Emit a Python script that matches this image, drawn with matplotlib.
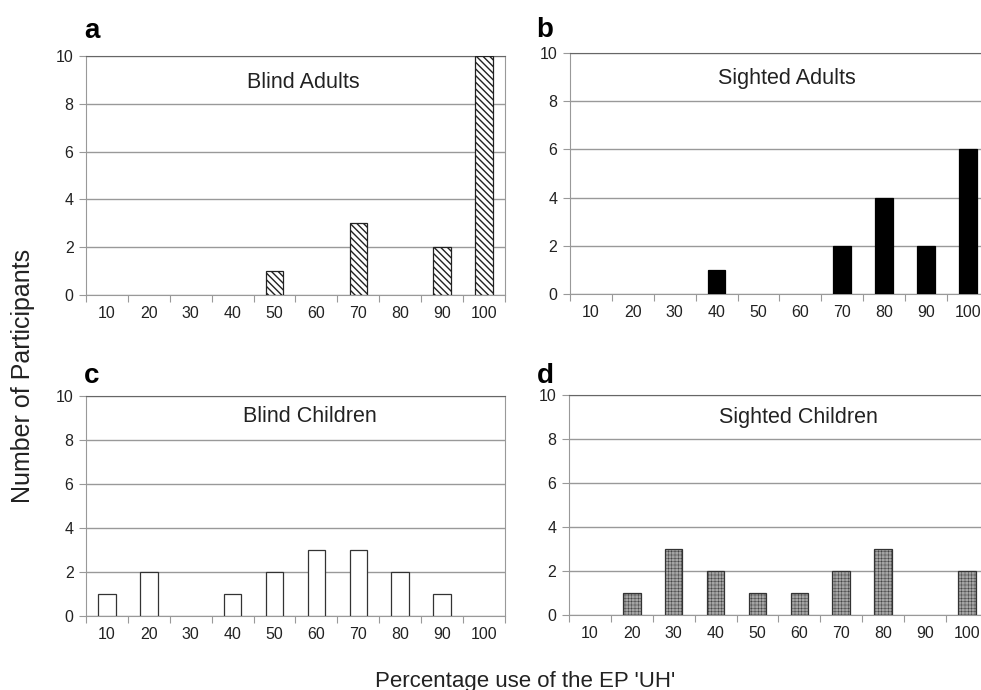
import matplotlib.pyplot as plt
import numpy as np

plt.rcParams['font.family'] = ['Liberation Sans', 'DejaVu Sans']

categories = ['10', '20', '30', '40', '50', '60', '70', '80', '90', '100']
blind_adults = [0, 0, 0, 0, 1, 0, 3, 0, 2, 10]
sighted_adults = [0, 0, 0, 1, 0, 0, 2, 4, 2, 6]
blind_children = [1, 2, 0, 1, 2, 3, 3, 2, 1, 0]
sighted_children = [0, 1, 3, 2, 1, 1, 2, 3, 0, 2]

panels = [
    # letter, title, values, axes rect, title pos (axes frac), letter pos (fig frac), bar style
    ('a', 'Blind Adults', blind_adults, [0.0877, 0.5725, 0.427, 0.3464], (0.518, 0.887), (0.086, 0.945),
     dict(facecolor='white', edgecolor='#222222', hatch='\\\\\\\\\\', hlw=1.0)),
    ('b', 'Sighted Adults', sighted_adults, [0.581, 0.574, 0.427, 0.349], (0.518, 0.896), (0.547, 0.946),
     dict(facecolor='black', edgecolor='black', hatch=None, hlw=1.0)),
    ('c', 'Blind Children', blind_children, [0.0877, 0.1072, 0.427, 0.319], (0.535, 0.905), (0.086, 0.445),
     dict(facecolor='white', edgecolor='#333333', hatch=None, hlw=1.0)),
    ('d', 'Sighted Children', sighted_children, [0.580, 0.1087, 0.427, 0.319], (0.547, 0.895), (0.547, 0.445),
     dict(facecolor='#a4a4a4', edgecolor='#333333', hatch='+++++', hlw=0.3)),
]

fig = plt.figure(figsize=(9.81, 6.90), dpi=100)
x = np.arange(len(categories))

for letter, title, vals, rect, tpos, lpos, st in panels:
    ax = fig.add_axes(rect)
    vals = np.array(vals)
    lw = np.where(vals > 0, 0.9, 0.0)
    with plt.rc_context({'hatch.linewidth': st['hlw'], 'hatch.color': st['edgecolor']}):
        ax.bar(x, vals, width=0.42, facecolor=st['facecolor'], edgecolor=st['edgecolor'],
               hatch=st['hatch'], linewidth=lw, zorder=3)
    ax.set_xlim(-0.5, 9.5)
    ax.set_ylim(0, 10)
    ax.set_yticks([0, 2, 4, 6, 8, 10])
    ax.yaxis.grid(True, color='#999999', linewidth=1.0, zorder=0)
    # ticks between categories, labels in the middle
    ax.set_xticks(np.arange(-0.5, 10, 1))
    ax.set_xticklabels([])
    ax.set_xticks(x, minor=True)
    ax.set_xticklabels(categories, minor=True)
    ax.tick_params(axis='x', which='major', direction='out', length=5, color='#999999')
    ax.tick_params(axis='x', which='minor', length=0, pad=8, labelsize=11.5, labelcolor='#222222')
    ax.tick_params(axis='y', direction='out', length=5, color='#999999', labelsize=11.5,
                   labelcolor='#222222', pad=4)
    for s in ['left', 'bottom', 'right']:
        ax.spines[s].set_color('#999999')
    ax.spines['top'].set_color('#666666')
    ax.text(tpos[0], tpos[1], title, transform=ax.transAxes, ha='center', va='center',
            fontsize=15.5, color='#222222')
    fig.text(lpos[0], lpos[1], letter, ha='left', va='baseline',
             fontsize=20, fontweight='bold')

fig.text(0.023, 0.455, 'Number of Participants', rotation=90, ha='center', va='center',
         fontsize=18, color='#222222')
fig.text(0.535, 0.005, "Percentage use of the EP 'UH'", ha='center', va='baseline',
         fontsize=16, color='#222222')

plt.savefig('out.png', dpi=100)
